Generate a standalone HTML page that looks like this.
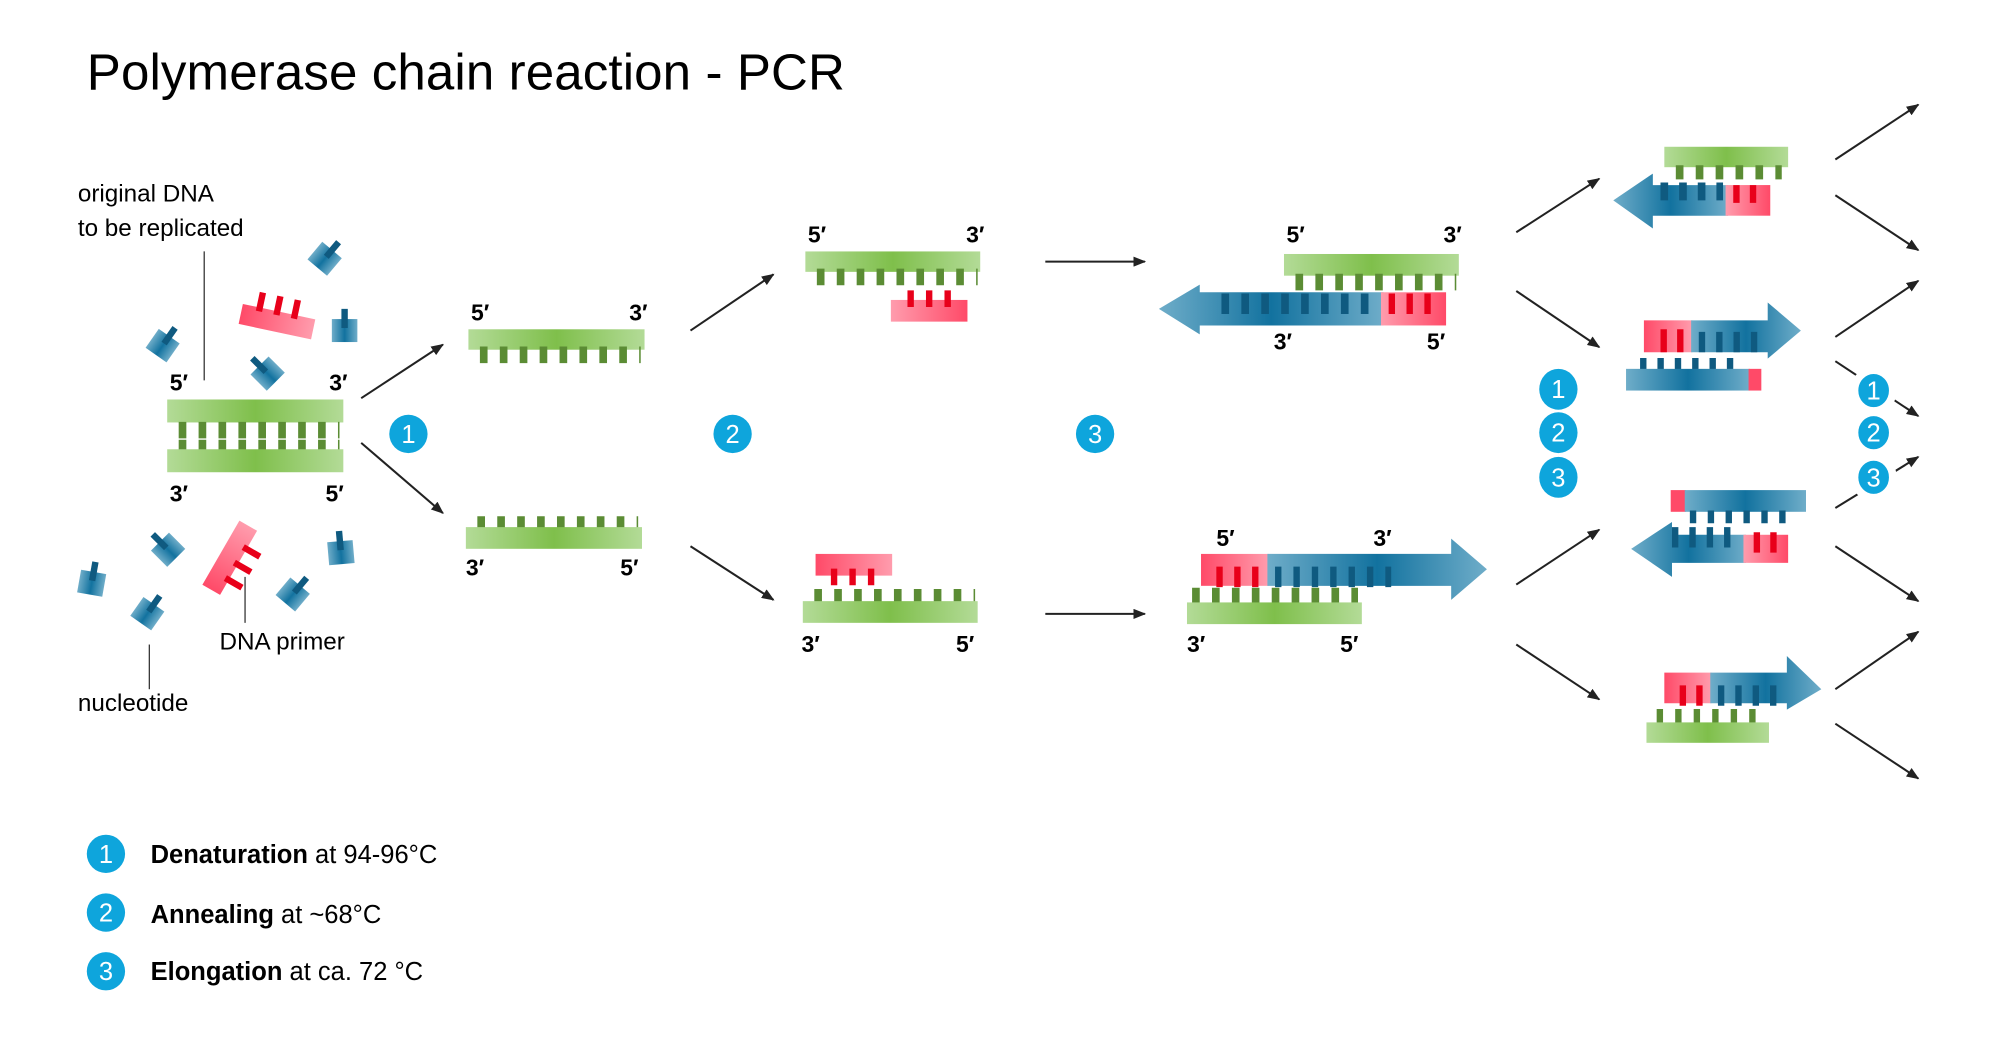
<!DOCTYPE html>
<html><head><meta charset="utf-8"><style>
html,body{margin:0;padding:0;background:#fff;}
svg{display:block;}
text{font-family:"Liberation Sans",sans-serif;}
.b{font-weight:bold;font-size:18px;}
</style></head><body>
<svg width="2000" height="1043" viewBox="0 0 1567 817.2" preserveAspectRatio="none" xmlns="http://www.w3.org/2000/svg">
<defs>
<linearGradient id="g" x1="0" x2="1" y1="0" y2="0"><stop offset="0" stop-color="#b3db97"/><stop offset="0.5" stop-color="#7fbf4b"/><stop offset="1" stop-color="#b3db97"/></linearGradient>
<linearGradient id="bl" x1="0" x2="1" y1="0" y2="0"><stop offset="0" stop-color="#6fadc9"/><stop offset="0.5" stop-color="#12729f"/><stop offset="1" stop-color="#6fadc9"/></linearGradient>
<linearGradient id="r" x1="0" x2="1" y1="0" y2="0"><stop offset="0" stop-color="#ff4a68"/><stop offset="1" stop-color="#ff9cad"/></linearGradient>
<linearGradient id="r2" x1="1" x2="0" y1="0" y2="0"><stop offset="0" stop-color="#ff4a68"/><stop offset="1" stop-color="#ff9cad"/></linearGradient>
<marker id="ah" markerWidth="10" markerHeight="8" refX="9" refY="4" orient="auto" markerUnits="userSpaceOnUse"><path d="M0,0 L10,4 L0,8 z" fill="#222"/></marker>
<g id="nuc"><rect x="-10" y="-8" width="20" height="18" fill="url(#bl)"/><rect x="-2.5" y="-16" width="5" height="15" fill="#0f5a80"/></g>
<g id="pr"><rect x="-29" y="-8" width="58" height="16" fill="url(#r)"/><rect x="-18" y="-20" width="5" height="15" fill="#e8001a"/><rect x="-4" y="-20" width="5" height="15" fill="#e8001a"/><rect x="10" y="-20" width="5" height="15" fill="#e8001a"/></g>
</defs>

<text x="68" y="70" font-size="40" textLength="594">Polymerase chain reaction - PCR</text>

<text x="61" y="158" font-size="19">original DNA</text>
<text x="61" y="185" font-size="19">to be replicated</text>
<line x1="160" y1="197" x2="160" y2="298" stroke="#333" stroke-width="1"/>
<text x="172" y="509" font-size="19">DNA primer</text>
<line x1="192" y1="452" x2="192" y2="488" stroke="#333" stroke-width="1"/>
<text x="61" y="557" font-size="19">nucleotide</text>
<line x1="117" y1="505" x2="117" y2="540" stroke="#333" stroke-width="1"/>

<use href="#nuc" transform="translate(128,270) rotate(35)"/>
<use href="#nuc" transform="translate(255,202) rotate(40)"/>
<use href="#nuc" transform="translate(270,258)"/>
<use href="#nuc" transform="translate(209,292) rotate(-45)"/>
<use href="#nuc" transform="translate(131,430) rotate(-45)"/>
<use href="#nuc" transform="translate(72,456) rotate(10)"/>
<use href="#nuc" transform="translate(116,480) rotate(35)"/>
<use href="#nuc" transform="translate(230,465) rotate(40)"/>
<use href="#nuc" transform="translate(267,432) rotate(-5)"/>
<use href="#pr" transform="translate(217,252) rotate(12)"/>
<use href="#pr" transform="translate(180,437) rotate(-60) scale(1,-1)"/>

<text class="b" x="133" y="306">5′</text><text class="b" x="258" y="306">3′</text>
<rect x="131" y="313" width="138" height="18" fill="url(#g)"/>
<line x1="140" y1="337" x2="266" y2="337" stroke="#5b8c34" stroke-width="13" stroke-dasharray="6 9.6"/>
<line x1="140" y1="352" x2="266" y2="352" stroke="#5b8c34" stroke-width="15" stroke-dasharray="6 9.6"/>
<rect x="131" y="352" width="138" height="18" fill="url(#g)"/>
<text class="b" x="133" y="393">3′</text><text class="b" x="255" y="393">5′</text>

<line x1="283" y1="312" x2="347" y2="270" stroke="#222" stroke-width="1.6" marker-end="url(#ah)"/>
<line x1="283" y1="347" x2="347" y2="402" stroke="#222" stroke-width="1.6" marker-end="url(#ah)"/>

<text class="b" x="369" y="251">5′</text><text class="b" x="493" y="251">3′</text>
<rect x="367" y="258" width="138" height="16" fill="url(#g)"/>
<line x1="376" y1="278" x2="502" y2="278" stroke="#5b8c34" stroke-width="13" stroke-dasharray="6 9.6"/>
<line x1="374" y1="411" x2="500" y2="411" stroke="#5b8c34" stroke-width="13" stroke-dasharray="6 9.6"/>
<rect x="365" y="413" width="138" height="17" fill="url(#g)"/>
<text class="b" x="365" y="451">3′</text><text class="b" x="486" y="451">5′</text>

<line x1="541" y1="259" x2="606" y2="215" stroke="#222" stroke-width="1.6" marker-end="url(#ah)"/>
<line x1="541" y1="428" x2="606" y2="470" stroke="#222" stroke-width="1.6" marker-end="url(#ah)"/>

<text class="b" x="633" y="190">5′</text><text class="b" x="757" y="190">3′</text>
<rect x="631" y="197" width="137" height="16" fill="url(#g)"/>
<line x1="640" y1="217" x2="766" y2="217" stroke="#5b8c34" stroke-width="13" stroke-dasharray="6 9.6"/>
<rect x="698" y="235" width="60" height="17" fill="url(#r2)"/>
<line x1="711" y1="234" x2="750" y2="234" stroke="#e8001a" stroke-width="13" stroke-dasharray="5 9.5"/>
<rect x="639" y="434" width="60" height="17" fill="url(#r)"/>
<line x1="651" y1="452" x2="690" y2="452" stroke="#e8001a" stroke-width="13" stroke-dasharray="5 9.5"/>
<line x1="638" y1="469" x2="764" y2="469" stroke="#5b8c34" stroke-width="15" stroke-dasharray="6 9.6"/>
<rect x="629" y="471" width="137" height="17" fill="url(#g)"/>
<text class="b" x="628" y="511">3′</text><text class="b" x="749" y="511">5′</text>

<line x1="819" y1="205" x2="897" y2="205" stroke="#222" stroke-width="1.6" marker-end="url(#ah)"/>
<line x1="819" y1="481" x2="897" y2="481" stroke="#222" stroke-width="1.6" marker-end="url(#ah)"/>

<text class="b" x="1008" y="190">5′</text><text class="b" x="1131" y="190">3′</text>
<rect x="1006" y="199" width="137" height="17" fill="url(#g)"/>
<line x1="1015" y1="221" x2="1141" y2="221" stroke="#5b8c34" stroke-width="13" stroke-dasharray="6 9.6"/>
<path d="M908,242 L940,223 L940,229 L1084,229 L1084,255 L940,255 L940,262 Z" fill="url(#bl)"/>
<rect x="1082" y="229" width="51" height="26" fill="url(#r2)"/>
<line x1="957" y1="238" x2="1080" y2="238" stroke="#0f5a80" stroke-width="16" stroke-dasharray="6 9.6"/>
<line x1="1088" y1="238" x2="1125" y2="238" stroke="#e8001a" stroke-width="16" stroke-dasharray="5 9"/>
<text class="b" x="998" y="274">3′</text><text class="b" x="1118" y="274">5′</text>

<text class="b" x="953" y="428">5′</text><text class="b" x="1076" y="428">3′</text>
<rect x="941" y="434" width="53" height="25" fill="url(#r)"/>
<path d="M993,434 L1137,434 L1137,422 L1165,446 L1137,470 L1137,459 L993,459 Z" fill="url(#bl)"/>
<line x1="953" y1="452" x2="990" y2="452" stroke="#e8001a" stroke-width="16" stroke-dasharray="5 9"/>
<line x1="999" y1="452" x2="1090" y2="452" stroke="#0f5a80" stroke-width="16" stroke-dasharray="5 9.4"/>
<line x1="934" y1="468" x2="1064" y2="468" stroke="#5b8c34" stroke-width="15" stroke-dasharray="6 9.6"/>
<rect x="930" y="472" width="137" height="17" fill="url(#g)"/>
<text class="b" x="930" y="511">3′</text><text class="b" x="1050" y="511">5′</text>

<g stroke="#222" stroke-width="1.6" marker-end="url(#ah)">
<line x1="1188" y1="182" x2="1253" y2="140"/>
<line x1="1188" y1="228" x2="1253" y2="272"/>
<line x1="1188" y1="458" x2="1253" y2="415"/>
<line x1="1188" y1="505" x2="1253" y2="548"/>
<line x1="1438" y1="125" x2="1503" y2="82"/>
<line x1="1438" y1="153" x2="1503" y2="196"/>
<line x1="1438" y1="264" x2="1503" y2="220"/>
<line x1="1438" y1="283" x2="1503" y2="326"/>
<line x1="1438" y1="398" x2="1503" y2="358"/>
<line x1="1438" y1="428" x2="1503" y2="471"/>
<line x1="1438" y1="540" x2="1503" y2="495"/>
<line x1="1438" y1="567" x2="1503" y2="610"/>
</g>

<rect x="1304" y="115" width="97" height="16" fill="url(#g)"/>
<line x1="1313" y1="135" x2="1396" y2="135" stroke="#5b8c34" stroke-width="11" stroke-dasharray="6 9.6"/>
<path d="M1264,157 L1295,136 L1295,145 L1354,145 L1354,169 L1295,169 L1295,179 Z" fill="url(#bl)"/>
<rect x="1352" y="145" width="35" height="24" fill="url(#r2)"/>
<line x1="1301" y1="150" x2="1350" y2="150" stroke="#0f5a80" stroke-width="14" stroke-dasharray="6 8.6"/>
<line x1="1358" y1="152" x2="1378" y2="152" stroke="#e8001a" stroke-width="14" stroke-dasharray="5 8"/>

<rect x="1288" y="251" width="38" height="25" fill="url(#r)"/>
<path d="M1325,251 L1385,251 L1385,237 L1411,259 L1385,281 L1385,276 L1325,276 Z" fill="url(#bl)"/>
<line x1="1301" y1="267" x2="1322" y2="267" stroke="#e8001a" stroke-width="18" stroke-dasharray="5 8"/>
<line x1="1331" y1="268" x2="1382" y2="268" stroke="#0f5a80" stroke-width="16" stroke-dasharray="5 8.6"/>
<line x1="1285" y1="289" x2="1362" y2="289" stroke="#0f5a80" stroke-width="17" stroke-dasharray="5 8.6"/>
<rect x="1274" y="289" width="97" height="17" fill="url(#bl)"/>
<rect x="1370" y="289" width="10" height="17" fill="#ff4a68"/>

<rect x="1309" y="384" width="12" height="17" fill="#ff4a68"/>
<rect x="1320" y="384" width="95" height="17" fill="url(#bl)"/>
<line x1="1324" y1="405" x2="1408" y2="405" stroke="#0f5a80" stroke-width="10" stroke-dasharray="5 9"/>
<path d="M1278,430 L1310,409 L1310,419 L1368,419 L1368,441 L1310,441 L1310,452 Z" fill="url(#bl)"/>
<rect x="1366" y="419" width="35" height="22" fill="url(#r2)"/>
<line x1="1310" y1="421" x2="1362" y2="421" stroke="#0f5a80" stroke-width="16" stroke-dasharray="5 8.6"/>
<line x1="1374" y1="425" x2="1394" y2="425" stroke="#e8001a" stroke-width="16" stroke-dasharray="5 8"/>

<rect x="1304" y="527" width="37" height="24" fill="url(#r)"/>
<path d="M1340,527 L1400,527 L1400,514 L1427,540 L1400,556 L1400,551 L1340,551 Z" fill="url(#bl)"/>
<line x1="1316" y1="545" x2="1337" y2="545" stroke="#e8001a" stroke-width="16" stroke-dasharray="5 8"/>
<line x1="1346" y1="545" x2="1396" y2="545" stroke="#0f5a80" stroke-width="16" stroke-dasharray="5 8.6"/>
<line x1="1298" y1="563" x2="1383" y2="563" stroke="#5b8c34" stroke-width="15" stroke-dasharray="5 9.5"/>
<rect x="1290" y="566" width="96" height="16" fill="url(#g)"/>

<g font-size="20" fill="#fff" text-anchor="middle">
<circle cx="320" cy="340" r="15" fill="#0ea5dc"/><text x="320" y="347">1</text>
<circle cx="574" cy="340" r="15" fill="#0ea5dc"/><text x="574" y="347">2</text>
<circle cx="858" cy="340" r="15" fill="#0ea5dc"/><text x="858" y="347">3</text>
<ellipse cx="1221" cy="305" rx="15" ry="16" fill="#0ea5dc"/><text x="1221" y="312">1</text>
<ellipse cx="1221" cy="339" rx="15" ry="16" fill="#0ea5dc"/><text x="1221" y="346">2</text>
<ellipse cx="1221" cy="374" rx="15" ry="16" fill="#0ea5dc"/><text x="1221" y="381">3</text>
<ellipse cx="1468" cy="306" rx="15" ry="16" fill="#0ea5dc" stroke="#fff" stroke-width="6"/><text x="1468" y="313">1</text>
<ellipse cx="1468" cy="339" rx="15" ry="16" fill="#0ea5dc" stroke="#fff" stroke-width="6"/><text x="1468" y="346">2</text>
<ellipse cx="1468" cy="374" rx="15" ry="16" fill="#0ea5dc" stroke="#fff" stroke-width="6"/><text x="1468" y="381">3</text>
<circle cx="83" cy="669" r="15" fill="#0ea5dc"/><text x="83" y="676">1</text>
<circle cx="83" cy="715" r="15" fill="#0ea5dc"/><text x="83" y="722">2</text>
<circle cx="83" cy="761" r="15" fill="#0ea5dc"/><text x="83" y="768">3</text>
</g>

<text x="118" y="676" font-size="20"><tspan font-weight="bold">Denaturation</tspan> at 94-96°C</text>
<text x="118" y="723" font-size="20"><tspan font-weight="bold">Annealing</tspan> at ~68°C</text>
<text x="118" y="768" font-size="20"><tspan font-weight="bold">Elongation</tspan> at ca. 72 °C</text>
</svg>
</body></html>
